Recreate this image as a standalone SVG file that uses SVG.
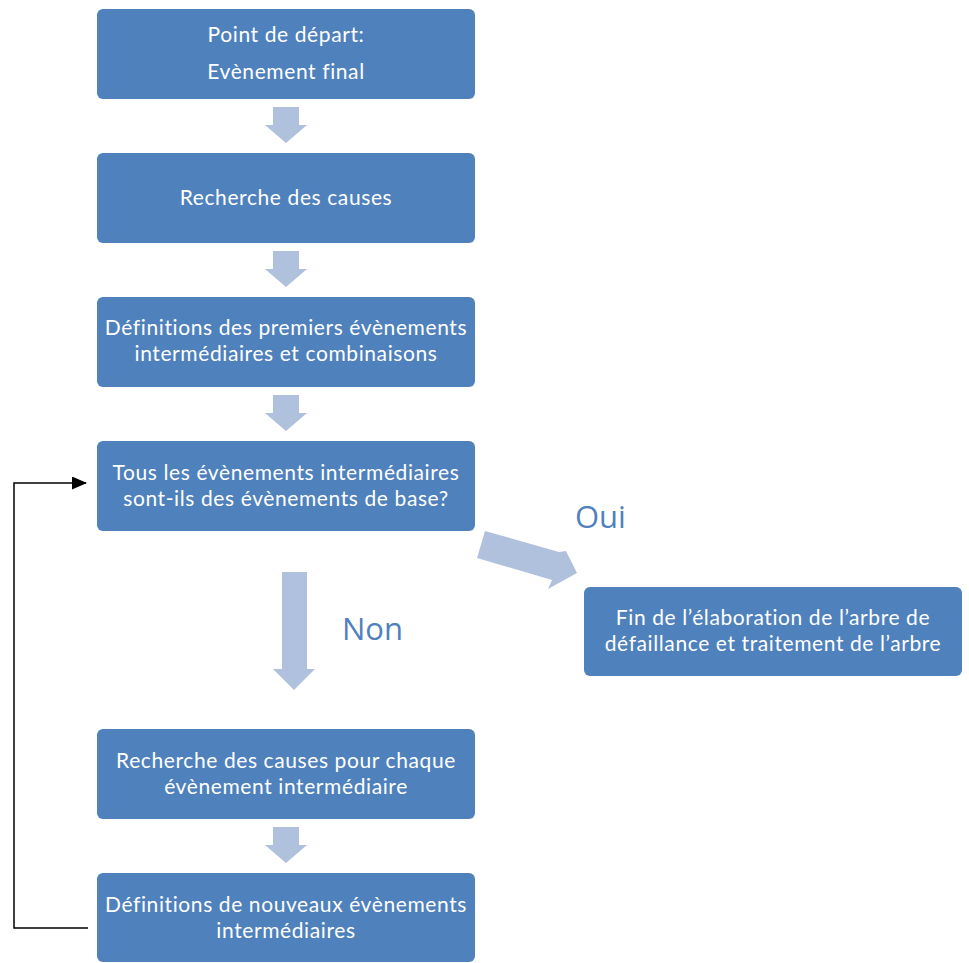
<svg xmlns="http://www.w3.org/2000/svg" width="969" height="963" viewBox="0 0 969 963">
<style>
.box{fill:#4F81BD}
.t{font-family:Lato,"Open Sans","Liberation Sans",sans-serif;font-size:21px;letter-spacing:0.6px;font-variant-ligatures:none;fill:#FFFFFF;text-anchor:middle}
.lbl{font-family:"Open Sans","Liberation Sans",sans-serif;font-size:31px;fill:#4F81BD}
.blk{fill:#B0C1DD}
.conn{fill:none;stroke:#000;stroke-width:1.5}
</style>
<defs>
<marker id="ahb" markerWidth="15" markerHeight="13" refX="14" refY="6.5" orient="auto" markerUnits="userSpaceOnUse" viewBox="0 0 15 13">
<path d="M0,0 L15,6.5 L0,13 z" fill="#000"/>
</marker>
</defs>
<rect width="969" height="963" fill="#fff"/>
<g id="connectors">
<polygon class="blk" points="273,107 299,107 299,125 307,125 286,143 265,125 273,125"/>
<polygon class="blk" points="273,251 299,251 299,269 307,269 286,287 265,269 273,269"/>
<polygon class="blk" points="273,395 299,395 299,413 307,413 286,431 265,413 273,413"/>
<polygon class="blk" points="282,572 307,572 307,669 315,669 294,690 273,669 282,669"/>
<polygon class="blk" points="273,827 299,827 299,845 307,845 286,863 265,845 273,845"/>
<polygon class="blk" points="485,531 559,552 566,551 577,573 548,589 552,580 477,558"/>
<path class="conn" d="M88,928 L14,928 L14,483 L86,483" marker-end="url(#ahb)"/>
<text class="lbl" x="575" y="528">Oui</text>
<text class="lbl" x="342" y="640">Non</text>
</g>
<g id="n1">
<rect class="box" x="97" y="9" width="378" height="90" rx="6"/>
<text class="t" x="286" y="42">Point de départ:</text>
<text class="t" x="286" y="79">Evènement final</text>
</g>
<g id="n2">
<rect class="box" x="97" y="153" width="378" height="90" rx="6"/>
<text class="t" x="286" y="205">Recherche des causes</text>
</g>
<g id="n3">
<rect class="box" x="97" y="297" width="378" height="90" rx="6"/>
<text class="t" x="286" y="335">Définitions des premiers évènements</text>
<text class="t" x="286" y="361">intermédiaires et combinaisons</text>
</g>
<g id="n4">
<rect class="box" x="97" y="441" width="378" height="90" rx="6"/>
<text class="t" x="286" y="480">Tous les évènements intermédiaires</text>
<text class="t" x="286" y="506">sont-ils des évènements de base?</text>
</g>
<g id="n5">
<rect class="box" x="584" y="587" width="378" height="89" rx="6"/>
<text class="t" x="773" y="625">Fin de l’élaboration de l’arbre de</text>
<text class="t" x="773" y="651">défaillance et traitement de l’arbre</text>
</g>
<g id="n6">
<rect class="box" x="97" y="729" width="378" height="90" rx="6"/>
<text class="t" x="286" y="768">Recherche des causes pour chaque</text>
<text class="t" x="286" y="794">évènement intermédiaire</text>
</g>
<g id="n7">
<rect class="box" x="97" y="873" width="378" height="89" rx="6"/>
<text class="t" x="286" y="912">Définitions de nouveaux évènements</text>
<text class="t" x="286" y="938">intermédiaires</text>
</g>
</svg>
